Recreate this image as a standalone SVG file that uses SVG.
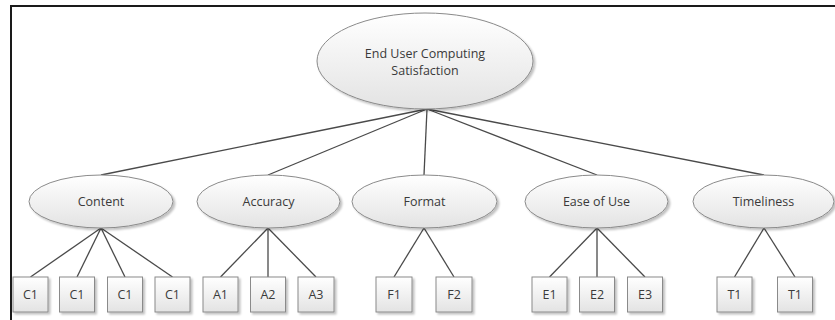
<svg xmlns="http://www.w3.org/2000/svg" width="835" height="320" viewBox="0 0 835 320">
<defs>
<linearGradient id="g" x1="0" y1="0" x2="0" y2="1">
<stop offset="0" stop-color="#ffffff"/>
<stop offset="1" stop-color="#e3e3e3"/>
</linearGradient>
<filter id="sh" x="-10%" y="-10%" width="130%" height="130%">
<feGaussianBlur in="SourceAlpha" stdDeviation="1.2"/>
<feOffset dx="1.5" dy="1.5" result="b"/>
<feComponentTransfer><feFuncA type="linear" slope="0.25"/></feComponentTransfer>
<feMerge><feMergeNode/><feMergeNode in="SourceGraphic"/></feMerge>
</filter>
</defs>
<style>
.n{fill:url(#g);stroke:#8a8a8a;stroke-width:1;filter:url(#sh)}
.t{font-family:"Open Sans","Noto Sans",sans-serif;font-size:12.5px;fill:#3a3a3a;text-anchor:middle}
.c{stroke:#4a4a4a;stroke-width:1.3;fill:none}
</style>
<rect x="0" y="0" width="835" height="320" fill="#ffffff"/>
<path d="M11,320 V6 H835" fill="none" stroke="#1a1a1a" stroke-width="2"/>
<g id="connectors" class="c">
<line x1="427" y1="109" x2="101" y2="175"/>
<line x1="427" y1="109" x2="268" y2="175"/>
<line x1="427" y1="109" x2="424" y2="175"/>
<line x1="427" y1="109" x2="597" y2="175"/>
<line x1="427" y1="109" x2="764" y2="175"/>
<line x1="101" y1="228" x2="30.5" y2="277"/>
<line x1="101" y1="228" x2="77" y2="277"/>
<line x1="101" y1="228" x2="125" y2="277"/>
<line x1="101" y1="228" x2="172.5" y2="277"/>
<line x1="268" y1="228" x2="220.5" y2="277"/>
<line x1="268" y1="228" x2="268" y2="277"/>
<line x1="268" y1="228" x2="316" y2="277"/>
<line x1="424" y1="228" x2="394" y2="277"/>
<line x1="424" y1="228" x2="454" y2="277"/>
<line x1="597" y1="228" x2="549.5" y2="277"/>
<line x1="597" y1="228" x2="597" y2="277"/>
<line x1="597" y1="228" x2="645" y2="277"/>
<line x1="764" y1="228" x2="734.5" y2="277"/>
<line x1="764" y1="228" x2="795" y2="277"/>
</g>
<g id="root"><ellipse class="n" cx="425" cy="61" rx="108" ry="48"/>
<text class="t" x="425" y="58">End User Computing</text>
<text class="t" x="425" y="75">Satisfaction</text></g>
<g id="content"><ellipse class="n" cx="101" cy="201.5" rx="72" ry="26.5"/><text class="t" x="101" y="206">Content</text></g>
<g id="accuracy"><ellipse class="n" cx="268.5" cy="201.5" rx="71.5" ry="26.5"/><text class="t" x="268.5" y="206">Accuracy</text></g>
<g id="format"><ellipse class="n" cx="424.5" cy="201.5" rx="72.5" ry="26.5"/><text class="t" x="424.5" y="206">Format</text></g>
<g id="ease"><ellipse class="n" cx="596.5" cy="201.5" rx="71.5" ry="26.5"/><text class="t" x="596.5" y="206">Ease of Use</text></g>
<g id="timeliness"><ellipse class="n" cx="763.5" cy="201.5" rx="70.5" ry="26.5"/><text class="t" x="763.5" y="206">Timeliness</text></g>
<g id="c1a"><rect class="n" x="13" y="277" width="35" height="35"/><text class="t" x="30.5" y="298.5">C1</text></g>
<g id="c1b"><rect class="n" x="59.5" y="277" width="35" height="35"/><text class="t" x="77" y="298.5">C1</text></g>
<g id="c1c"><rect class="n" x="107.5" y="277" width="35" height="35"/><text class="t" x="125" y="298.5">C1</text></g>
<g id="c1d"><rect class="n" x="155" y="277" width="35" height="35"/><text class="t" x="172.5" y="298.5">C1</text></g>
<g id="a1"><rect class="n" x="203" y="277" width="35" height="35"/><text class="t" x="220.5" y="298.5">A1</text></g>
<g id="a2"><rect class="n" x="250.5" y="277" width="35" height="35"/><text class="t" x="268" y="298.5">A2</text></g>
<g id="a3"><rect class="n" x="298" y="277" width="36" height="35"/><text class="t" x="316" y="298.5">A3</text></g>
<g id="f1"><rect class="n" x="376" y="277" width="36" height="35"/><text class="t" x="394" y="298.5">F1</text></g>
<g id="f2"><rect class="n" x="436" y="277" width="36" height="35"/><text class="t" x="454" y="298.5">F2</text></g>
<g id="e1"><rect class="n" x="532" y="277" width="35" height="35"/><text class="t" x="549.5" y="298.5">E1</text></g>
<g id="e2"><rect class="n" x="579.5" y="277" width="35" height="35"/><text class="t" x="597" y="298.5">E2</text></g>
<g id="e3"><rect class="n" x="627.5" y="277" width="35" height="35"/><text class="t" x="645" y="298.5">E3</text></g>
<g id="t1a"><rect class="n" x="717" y="277" width="35" height="35"/><text class="t" x="734.5" y="298.5">T1</text></g>
<g id="t1b"><rect class="n" x="777.5" y="277" width="35" height="35"/><text class="t" x="795" y="298.5">T1</text></g>
</svg>
